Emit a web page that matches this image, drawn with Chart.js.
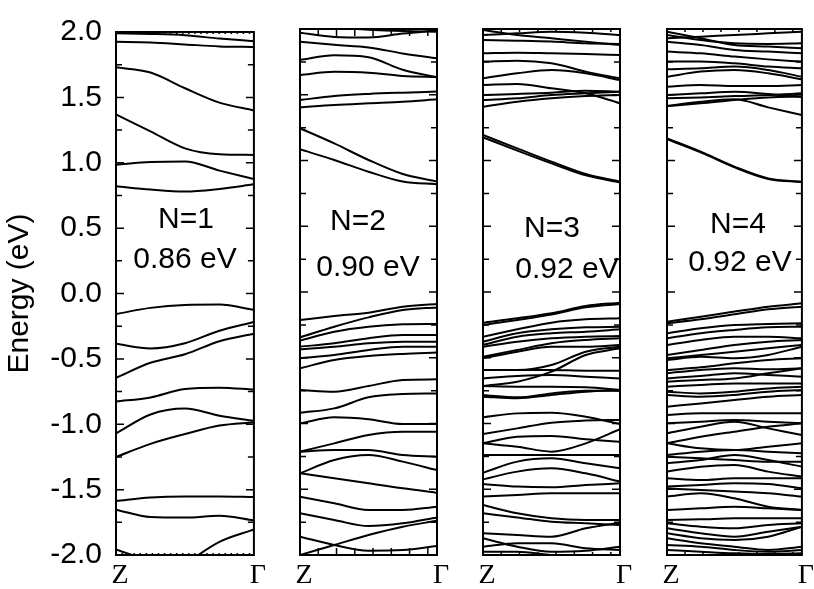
<!DOCTYPE html>
<html lang="en">
<head>
  <meta charset="UTF-8">
  <title>Band structure N=1..4</title>
  <script src="https://cdn.jsdelivr.net/npm/chart.js"></script>
  <style>
    body {
      margin: 0;
      background: #ffffff;
    }
    #wrap {
      position: relative;
      width: 814px;
      height: 589px;
    }
    canvas {
      position: absolute;
      top: 0;
    }
  </style>
</head>
<body>
  <div id="wrap">
    <canvas id="p1" width="266" height="589" style="left:0px"></canvas>
    <canvas id="p2" width="167" height="589" style="left:285px"></canvas>
    <canvas id="p3" width="167" height="589" style="left:468px"></canvas>
    <canvas id="p4" width="162" height="589" style="left:652px"></canvas>
  </div>

  <script>
    // k-path sample points, Z -> Gamma
    const kpts = [0, 0.25, 0.5, 0.75, 1];
    const yTicks = [-2, -1.5, -1, -0.5, 0, 0.5, 1, 1.5, 2];
    const kLabels = ['Z', 'Γ'];

    const panelLabels = ['N=1', 'N=2', 'N=3', 'N=4'];
    const gapLabels = ['0.86 eV', '0.90 eV', '0.92 eV', '0.92 eV'];

    // energies (eV) of each band at kpts
    const bandsN1 = [
      [1.99, 1.985, 1.975, 1.95, 1.93],
      [1.925, 1.92, 1.905, 1.89, 1.885],
      [1.73, 1.69, 1.57, 1.46, 1.40],
      [1.37, 1.24, 1.11, 1.065, 1.06],
      [0.985, 1.005, 1.01, 0.94, 0.875],
      [0.82, 0.795, 0.78, 0.80, 0.835],
      [-0.157, -0.11, -0.088, -0.085, -0.125],
      [-0.385, -0.42, -0.38, -0.285, -0.218],
      [-0.645, -0.53, -0.465, -0.365, -0.307],
      [-0.826, -0.795, -0.73, -0.72, -0.735],
      [-1.07, -0.925, -0.88, -0.935, -0.975],
      [-1.25, -1.15, -1.075, -1.01, -0.985],
      [-1.587, -1.56, -1.552, -1.552, -1.557],
      [-1.653, -1.71, -1.714, -1.70, -1.735],
      [-1.957, -2.05, -2.15, -2.2, -2.2],
      [-2.4, -2.25, -2.07, -1.9, -1.805]
    ];

    const bandsN2 = [
      [2.02, 2.01, 1.995, 1.985, 1.98],
      [1.972, 1.94, 1.935, 1.965, 1.99],
      [1.904, 1.88, 1.86, 1.814, 1.776],
      [1.764, 1.80, 1.785, 1.69, 1.632],
      [1.65, 1.675, 1.668, 1.643, 1.635],
      [1.46, 1.49, 1.506, 1.516, 1.524],
      [1.404, 1.422, 1.435, 1.447, 1.465],
      [1.245, 1.13, 1.004, 0.897, 0.84],
      [1.085, 1.004, 0.915, 0.84, 0.82],
      [-0.213, -0.183, -0.157, -0.112, -0.091],
      [-0.345, -0.264, -0.193, -0.137, -0.117],
      [-0.370, -0.302, -0.264, -0.246, -0.243],
      [-0.416, -0.390, -0.352, -0.327, -0.327],
      [-0.436, -0.416, -0.390, -0.378, -0.378],
      [-0.504, -0.479, -0.441, -0.416, -0.416],
      [-0.580, -0.517, -0.487, -0.471, -0.461],
      [-0.745, -0.758, -0.715, -0.669, -0.664],
      [-0.918, -0.885, -0.801, -0.776, -0.771],
      [-0.999, -0.953, -0.968, -1.004, -1.004],
      [-1.214, -1.151, -1.087, -1.062, -1.062],
      [-1.214, -1.202, -1.202, -1.240, -1.252],
      [-1.379, -1.278, -1.240, -1.290, -1.354],
      [-1.379, -1.417, -1.455, -1.493, -1.526],
      [-1.556, -1.607, -1.658, -1.658, -1.633],
      [-1.683, -1.734, -1.780, -1.759, -1.714],
      [-2.000, -1.924, -1.848, -1.785, -1.739],
      [-1.861, -1.924, -1.967, -1.962, -1.932]
    ];

    const bandsN3 = [
      [1.992, 1.954, 1.929, 1.904, 1.878],
      [1.954, 1.967, 1.980, 1.972, 1.954],
      [1.916, 1.911, 1.904, 1.891, 1.886],
      [1.815, 1.820, 1.815, 1.810, 1.802],
      [1.752, 1.759, 1.739, 1.676, 1.625],
      [1.625, 1.663, 1.688, 1.663, 1.612],
      [1.574, 1.582, 1.549, 1.511, 1.435],
      [1.498, 1.506, 1.516, 1.531, 1.523],
      [1.460, 1.473, 1.498, 1.511, 1.523],
      [1.409, 1.447, 1.473, 1.490, 1.498],
      [1.194, 1.092, 0.991, 0.897, 0.839],
      [1.176, 1.075, 0.978, 0.887, 0.834],
      [-0.233, -0.200, -0.162, -0.106, -0.081],
      [-0.251, -0.213, -0.172, -0.117, -0.091],
      [-0.340, -0.284, -0.233, -0.208, -0.200],
      [-0.378, -0.314, -0.284, -0.269, -0.264],
      [-0.403, -0.340, -0.314, -0.302, -0.284],
      [-0.416, -0.378, -0.352, -0.340, -0.335],
      [-0.492, -0.441, -0.390, -0.365, -0.352],
      [-0.504, -0.454, -0.416, -0.416, -0.403],
      [-0.593, -0.593, -0.555, -0.454, -0.416],
      [-0.593, -0.593, -0.593, -0.598, -0.598],
      [-0.657, -0.639, -0.631, -0.644, -0.657],
      [-0.715, -0.682, -0.606, -0.479, -0.428],
      [-0.715, -0.720, -0.720, -0.725, -0.745],
      [-0.783, -0.801, -0.771, -0.750, -0.750],
      [-0.796, -0.808, -0.783, -0.758, -0.745],
      [-0.953, -0.923, -0.918, -0.948, -1.004],
      [-1.080, -1.037, -0.994, -0.978, -0.973],
      [-1.151, -1.100, -1.095, -1.120, -1.138],
      [-1.151, -1.176, -1.214, -1.151, -1.044],
      [-1.240, -1.240, -1.240, -1.240, -1.240],
      [-1.374, -1.290, -1.265, -1.303, -1.341],
      [-1.425, -1.366, -1.341, -1.379, -1.442],
      [-1.460, -1.480, -1.485, -1.468, -1.455],
      [-1.556, -1.544, -1.531, -1.531, -1.531],
      [-1.620, -1.683, -1.721, -1.734, -1.734],
      [-1.683, -1.714, -1.747, -1.759, -1.772],
      [-1.835, -1.848, -1.861, -1.797, -1.754],
      [-1.873, -1.937, -1.975, -1.967, -1.937],
      [-1.937, -1.911, -1.911, -1.949, -1.962],
      [-1.975, -1.975, -2.000, -2.013, -2.03]
    ];

    const bandsN4 = [
      [1.980, 1.929, 1.878, 1.866, 1.853],
      [1.954, 1.916, 1.891, 1.886, 1.891],
      [1.929, 1.942, 1.954, 1.967, 1.980],
      [1.904, 1.878, 1.840, 1.828, 1.815],
      [1.828, 1.815, 1.790, 1.769, 1.752],
      [1.752, 1.752, 1.739, 1.714, 1.701],
      [1.693, 1.701, 1.714, 1.688, 1.637],
      [1.637, 1.676, 1.688, 1.663, 1.617],
      [1.561, 1.574, 1.566, 1.566, 1.574],
      [1.498, 1.511, 1.523, 1.506, 1.485],
      [1.473, 1.480, 1.490, 1.498, 1.511],
      [1.414, 1.447, 1.465, 1.404, 1.346],
      [1.414, 1.435, 1.460, 1.480, 1.485],
      [1.168, 1.067, 0.953, 0.864, 0.839],
      [1.162, 1.062, 0.948, 0.860, 0.836],
      [-0.226, -0.188, -0.149, -0.112, -0.086],
      [-0.238, -0.208, -0.170, -0.132, -0.112],
      [-0.314, -0.276, -0.251, -0.243, -0.238],
      [-0.352, -0.314, -0.289, -0.269, -0.264],
      [-0.403, -0.365, -0.340, -0.340, -0.352],
      [-0.479, -0.441, -0.403, -0.378, -0.365],
      [-0.504, -0.479, -0.454, -0.428, -0.403],
      [-0.517, -0.492, -0.504, -0.479, -0.416],
      [-0.593, -0.573, -0.542, -0.517, -0.504],
      [-0.618, -0.593, -0.580, -0.588, -0.580],
      [-0.657, -0.639, -0.618, -0.631, -0.644],
      [-0.682, -0.669, -0.657, -0.618, -0.580],
      [-0.720, -0.707, -0.695, -0.695, -0.695],
      [-0.758, -0.771, -0.758, -0.733, -0.720],
      [-0.783, -0.796, -0.783, -0.758, -0.745],
      [-0.872, -0.847, -0.821, -0.796, -0.783],
      [-0.935, -0.923, -0.923, -0.923, -0.923],
      [-0.999, -0.986, -0.973, -0.986, -0.999],
      [-1.075, -1.024, -0.986, -1.037, -1.088],
      [-1.151, -1.100, -1.062, -1.024, -0.999],
      [-1.151, -1.189, -1.202, -1.176, -1.151],
      [-1.240, -1.214, -1.202, -1.214, -1.227],
      [-1.252, -1.265, -1.278, -1.290, -1.290],
      [-1.303, -1.278, -1.240, -1.278, -1.328],
      [-1.366, -1.328, -1.316, -1.366, -1.404],
      [-1.417, -1.430, -1.417, -1.417, -1.417],
      [-1.480, -1.468, -1.455, -1.460, -1.493],
      [-1.493, -1.506, -1.518, -1.531, -1.556],
      [-1.556, -1.531, -1.569, -1.633, -1.658],
      [-1.658, -1.645, -1.633, -1.645, -1.658],
      [-1.734, -1.729, -1.721, -1.721, -1.721],
      [-1.759, -1.785, -1.797, -1.772, -1.759],
      [-1.797, -1.835, -1.861, -1.823, -1.785],
      [-1.835, -1.873, -1.886, -1.861, -1.785],
      [-1.873, -1.911, -1.937, -1.962, -1.937],
      [-1.924, -1.937, -1.962, -1.975, -1.962],
      [-1.962, -1.975, -1.987, -1.992, -1.987]
    ];

    // where the N / gap notes sit: [k, energy]
    const panelLabelPos = [[0.507, 0.563], [0.423, 0.532], [0.504, 0.479], [0.526, 0.51]];
    const gapLabelPos = [[0.50, 0.259], [0.496, 0.183], [0.613, 0.167], [0.541, 0.221]];

    const sans = "'Liberation Sans', Arial, sans-serif";
    const serif = "'Liberation Serif', 'Times New Roman', serif";

    // frame, inward ticks and the two text notes
    const framePlugin = {
      id: 'frame',
      afterDatasetsDraw(chart, args, opts) {
        const { ctx, chartArea: a } = chart;
        const x = chart.scales.x, y = chart.scales.y;
        ctx.save();
        ctx.strokeStyle = '#000';
        ctx.lineWidth = 2;
        ctx.strokeRect(a.left, a.top, a.right - a.left, a.bottom - a.top);
        ctx.lineWidth = 1.5;
        ctx.beginPath();
        for (let i = 0; i <= 16; i++) {
          const e = -2 + i * 0.25;
          const py = y.getPixelForValue(e);
          const len = i % 2 === 0 ? 8 : 6;
          ctx.moveTo(a.left, py); ctx.lineTo(a.left + len, py);
          ctx.moveTo(a.right, py); ctx.lineTo(a.right - len, py);
        }
        for (let k = opts.kStep; k < 0.99; k += opts.kStep) {
          const px = x.getPixelForValue(k);
          ctx.moveTo(px, a.bottom); ctx.lineTo(px, a.bottom - opts.kLen);
          ctx.moveTo(px, a.top); ctx.lineTo(px, a.top + opts.kLen);
        }
        ctx.stroke();

        ctx.fillStyle = '#000';
        ctx.font = '30px ' + sans;
        ctx.textAlign = 'center';
        ctx.textBaseline = 'middle';
        const p = opts.panel;
        ctx.fillText(panelLabels[p], x.getPixelForValue(panelLabelPos[p][0]), y.getPixelForValue(panelLabelPos[p][1]));
        ctx.fillText(gapLabels[p], x.getPixelForValue(gapLabelPos[p][0]), y.getPixelForValue(gapLabelPos[p][1]));
        ctx.restore();
      }
    };

    function makePanel(id, panel, bands, padding, withAxis, kStep, kLen) {
      const datasets = bands.map(b => ({
        data: kpts.map((k, i) => ({ x: k, y: b[i] })),
        borderColor: '#000',
        borderWidth: 2,
        pointRadius: 0,
        cubicInterpolationMode: 'monotone',
        fill: false
      }));
      return new Chart(document.getElementById(id), {
        type: 'line',
        data: { datasets: datasets },
        plugins: [framePlugin],
        options: {
          responsive: false,
          animation: false,
          events: [],
          layout: { padding: padding },
          plugins: {
            legend: { display: false },
            tooltip: { enabled: false },
            frame: { panel: panel, kStep: kStep, kLen: kLen }
          },
          scales: {
            x: {
              type: 'linear',
              min: 0,
              max: 1,
              grid: { display: false, drawTicks: false },
              border: { display: false },
              afterBuildTicks: s => { s.ticks = [{ value: 0 }, { value: 1 }]; },
              afterFit: s => { s.height = 34; },
              ticks: {
                color: '#000',
                font: { family: serif, size: 28 },
                padding: 4,
                labelOffset: 4,
                maxRotation: 0,
                autoSkip: false,
                callback: v => v === 0 ? kLabels[0] : kLabels[1]
              }
            },
            y: {
              display: withAxis,
              min: -2,
              max: 2,
              grid: { display: false, drawTicks: false },
              border: { display: false },
              afterBuildTicks: s => { s.ticks = yTicks.map(v => ({ value: v })); },
              afterFit: s => { if (withAxis) s.width = 116; },
              title: {
                display: withAxis,
                text: 'Energy (eV)',
                color: '#000',
                font: { family: sans, size: 30 },
                padding: { top: 2, bottom: 0 }
              },
              ticks: {
                color: '#000',
                font: { family: sans, size: 30 },
                padding: 14,
                callback: v => v.toFixed(1)
              }
            }
          }
        }
      });
    }

    makePanel('p1', 0, bandsN1, { left: 0, right: 12, top: 29, bottom: 0 }, true, 0.044, 2);
    makePanel('p2', 1, bandsN2, { left: 15, right: 15, top: 29, bottom: 0 }, false, 0.1333, 7);
    makePanel('p3', 2, bandsN3, { left: 15, right: 15, top: 29, bottom: 0 }, false, 0.1333, 3);
    makePanel('p4', 3, bandsN4, { left: 15, right: 12, top: 29, bottom: 0 }, false, 0.1333, 3);
  </script>
</body>
</html>
